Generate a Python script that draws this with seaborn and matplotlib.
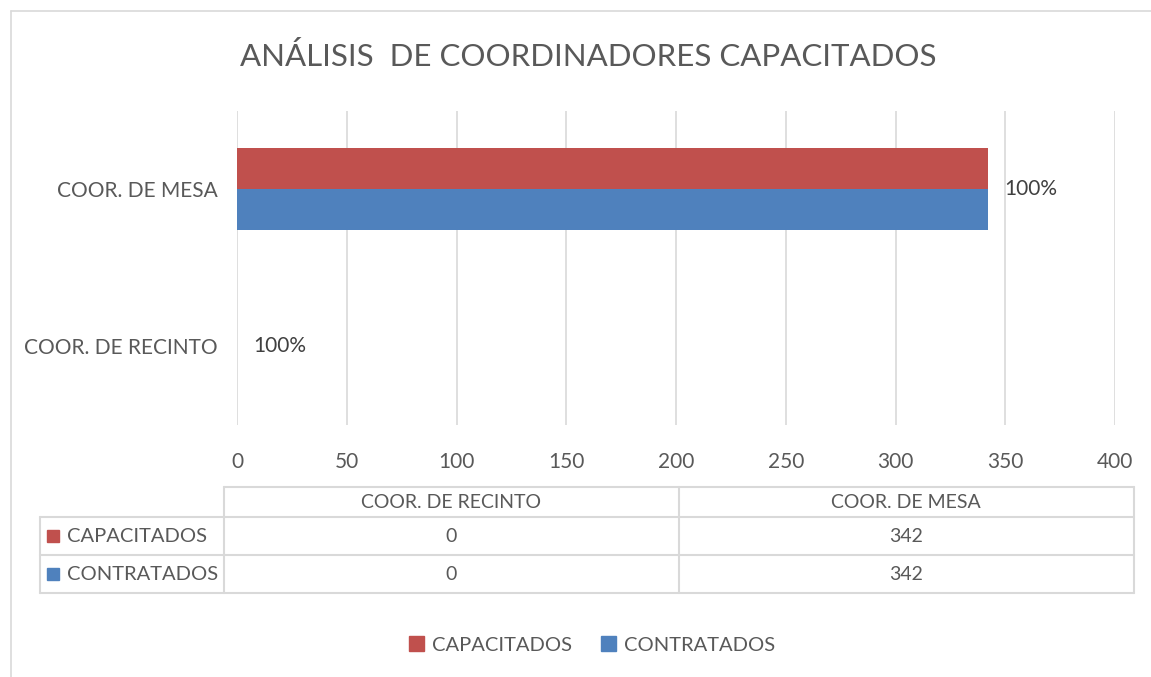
import pandas as pd
import matplotlib
matplotlib.use("Agg")
import matplotlib.pyplot as plt
from matplotlib.patches import Rectangle
from matplotlib.lines import Line2D
import seaborn as sns

# data
categories = ["COOR. DE RECINTO", "COOR. DE MESA"]
series = ["CAPACITADOS", "CONTRATADOS"]
capacitados = [0, 342]
contratados = [0, 342]
pct_labels = ["100%", "100%"]
x_ticks = [0, 50, 100, 150, 200, 250, 300, 350, 400]
colors = ["#C0504D", "#4F81BD"]
title = "ANÁLISIS  DE COORDINADORES CAPACITADOS"

grey = "#595959"
grid_c = "#d9d9d9"
W, H = 1151, 677

df = pd.DataFrame({
    "categoria": categories * 2,
    "serie": [series[0]] * 2 + [series[1]] * 2,
    "valor": capacitados + contratados,
})

sns.set_style("white")
plt.rcParams["font.family"] = ["Lato", "DejaVu Sans"]

fig = plt.figure(figsize=(W / 100, H / 100), dpi=100)

# overlay for border and table
ov = fig.add_axes([0, 0, 1, 1])
ov.set_xlim(0, W)
ov.set_ylim(H, 0)
ov.axis("off")
ov.patch.set_alpha(0)

ax = fig.add_axes([237 / W, 1 - 424.5 / H, (1115 - 237) / W, 314 / H])
sns.barplot(data=df, y="categoria", x="valor", hue="serie",
            order=categories[::-1], hue_order=series, palette=colors,
            width=0.52, orient="h", saturation=1, legend=False,
            linewidth=0, ax=ax)
ax.set_xlim(0, 400)
ax.set_xticks(x_ticks)
ax.grid(axis="x", color=grid_c, lw=1.2)
ax.set_axisbelow(True)
for s in ax.spines.values():
    s.set_visible(False)
ax.set_xlabel("")
ax.set_ylabel("")
ax.tick_params(axis="x", length=0, pad=20, labelsize=15, labelcolor=grey)
ax.tick_params(axis="y", length=0, pad=14, labelsize=15, labelcolor=grey)
ax.patch.set_alpha(0)

order = categories[::-1]
for i, cat in enumerate(order):
    j = categories.index(cat)
    v = max(capacitados[j], contratados[j])
    ax.text(v + 7.5, i, pct_labels[j], va="center", ha="left",
            fontsize=15, color="#404040")

fig.text(588 / W, 1 - 57 / H, title, ha="center", va="center",
         fontsize=22.5, color=grey)

# outer border
ov.add_line(Line2D([11, W], [11, 11], color=grid_c, lw=1.2))
ov.add_line(Line2D([11, 11], [11, H], color=grid_c, lw=1.2))

# data table
lc = dict(color=grid_c, lw=1.5)
ov.add_line(Line2D([224, 1134], [487, 487], **lc))
for y in [517, 555, 593]:
    ov.add_line(Line2D([40, 1134], [y, y], **lc))
ov.add_line(Line2D([40, 40], [517, 593], **lc))
for x in [224, 679, 1134]:
    ov.add_line(Line2D([x, x], [487, 593], **lc))

col_x = [451, 906]
for k, cat in enumerate(categories):
    ov.text(col_x[k], 503, cat, ha="center", va="center", fontsize=14, color=grey)
rows = [capacitados, contratados]
row_y = [536, 574]
for r, name in enumerate(series):
    ov.add_patch(Rectangle((47, row_y[r] - 6), 12, 12, color=colors[r]))
    ov.text(67, row_y[r], name, ha="left", va="center", fontsize=14.5, color=grey)
    for k in range(len(categories)):
        ov.text(col_x[k], row_y[r], str(rows[r][k]), ha="center", va="center",
                fontsize=14, color=grey)

# legend
handles = [Rectangle((0, 0), 1, 1, color=c) for c in colors]
fig.legend(handles, series, loc="center", bbox_to_anchor=(592 / W, 1 - 645 / H),
           ncol=2, frameon=False, fontsize=14.5, handlelength=0.75, handleheight=0.75,
           handletextpad=0.4, columnspacing=1.4, labelcolor=grey)

fig.savefig("out.png", dpi=100, facecolor="white")
